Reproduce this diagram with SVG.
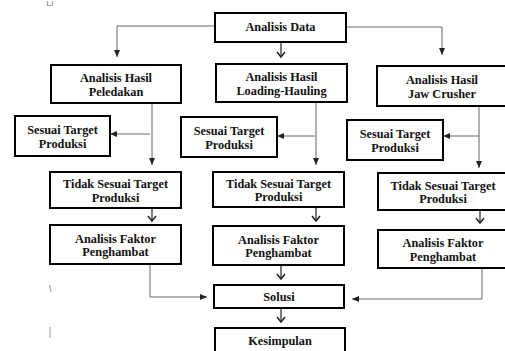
<svg xmlns="http://www.w3.org/2000/svg" width="505" height="351" viewBox="0 0 505 351">
<defs>
<style>
.box{fill:#fff;stroke:#000;stroke-width:2}
.t{font-family:"Liberation Serif","Times New Roman",serif;font-weight:bold;font-size:12.3px;fill:#111;text-anchor:middle}
.c{fill:none;stroke:#666;stroke-width:1}
.cv{fill:none;stroke:#222;stroke-width:1.2}
.mark{stroke:#aaa;stroke-width:1.2;fill:none}
</style>
<marker id="tri" markerUnits="userSpaceOnUse" markerWidth="8" markerHeight="8" viewBox="0 0 8 8" refX="7" refY="4" orient="auto">
<path d="M0,1 L7,4 L0,7 Z" fill="#222"/>
</marker>
<marker id="vee" markerUnits="userSpaceOnUse" markerWidth="10" markerHeight="10" viewBox="0 0 10 10" refX="8" refY="5" orient="auto">
<path d="M3,1 L8,5 L3,9" fill="none" stroke="#222" stroke-width="1.5"/>
</marker>
</defs>
<rect width="505" height="351" fill="#fff"/>
<g id="artifacts">
<path class="mark" d="M47.5,1 V5.5 H52.5 V1"/>
<path class="mark" d="M49.5,285 L51,292"/>
<path class="mark" d="M50,327 V338"/>
</g>
<g id="connectors">
<path class="c" d="M215,26 H117 V57" marker-end="url(#tri)"/>
<path class="c" d="M346,27 H442 V55" marker-end="url(#tri)"/>
<path class="cv" d="M281,42 V57" marker-end="url(#vee)"/>
<path class="c" d="M152,103 V165" marker-end="url(#tri)"/>
<path class="c" d="M150,134 H110" marker-end="url(#tri)"/>
<path class="c" d="M316,102 V165" marker-end="url(#tri)"/>
<path class="c" d="M315,136 H277" marker-end="url(#tri)"/>
<path class="c" d="M479,106 V168" marker-end="url(#tri)"/>
<path class="c" d="M479,136 H443" marker-end="url(#tri)"/>
<path class="cv" d="M152,208 V221" marker-end="url(#vee)"/>
<path class="cv" d="M316,207 V221" marker-end="url(#vee)"/>
<path class="cv" d="M480,210 V223" marker-end="url(#vee)"/>
<path class="c" d="M150,264 V297 H207" marker-end="url(#tri)"/>
<path class="cv" d="M281,265 V279" marker-end="url(#vee)"/>
<path class="c" d="M482,268 V299 H352" marker-end="url(#tri)"/>
<path class="cv" d="M281,308 V322" marker-end="url(#vee)"/>
</g>
<g id="analisis-data">
<rect class="box" x="215" y="13" width="131" height="29"/>
<text class="t" x="280.5" y="31">Analisis Data</text>
</g>
<g id="hasil-peledakan">
<rect class="box" x="51" y="65" width="130" height="38"/>
<text class="t" x="116" y="82">Analisis Hasil</text>
<text class="t" x="116" y="95.5">Peledakan</text>
</g>
<g id="hasil-loading">
<rect class="box" x="216" y="64" width="131" height="38"/>
<text class="t" x="281.5" y="81">Analisis Hasil</text>
<text class="t" x="281.5" y="94.5">Loading-Hauling</text>
</g>
<g id="hasil-jaw">
<rect class="box" x="377" y="66" width="130" height="40"/>
<text class="t" x="442" y="84">Analisis Hasil</text>
<text class="t" x="442" y="97.5">Jaw Crusher</text>
</g>
<g id="sesuai-1">
<rect class="box" x="15" y="116" width="95" height="40"/>
<text class="t" x="62.5" y="134">Sesuai Target</text>
<text class="t" x="62.5" y="147.5">Produksi</text>
</g>
<g id="sesuai-2">
<rect class="box" x="181" y="117" width="96" height="40"/>
<text class="t" x="229" y="135">Sesuai Target</text>
<text class="t" x="229" y="148.5">Produksi</text>
</g>
<g id="sesuai-3">
<rect class="box" x="347" y="120" width="96" height="40"/>
<text class="t" x="395" y="138">Sesuai Target</text>
<text class="t" x="395" y="151.5">Produksi</text>
</g>
<g id="tidak-1">
<rect class="box" x="50" y="172" width="131" height="36"/>
<text class="t" x="115.5" y="188">Tidak Sesuai Target</text>
<text class="t" x="115.5" y="201.5">Produksi</text>
</g>
<g id="tidak-2">
<rect class="box" x="213" y="172" width="131" height="35"/>
<text class="t" x="278.5" y="187.5">Tidak Sesuai Target</text>
<text class="t" x="278.5" y="201">Produksi</text>
</g>
<g id="tidak-3">
<rect class="box" x="378" y="173" width="130" height="37"/>
<text class="t" x="443" y="189.5">Tidak Sesuai Target</text>
<text class="t" x="443" y="203">Produksi</text>
</g>
<g id="faktor-1">
<rect class="box" x="50" y="225" width="131" height="39"/>
<text class="t" x="115.5" y="242.5">Analisis Faktor</text>
<text class="t" x="115.5" y="256">Penghambat</text>
</g>
<g id="faktor-2">
<rect class="box" x="213" y="226" width="131" height="39"/>
<text class="t" x="278.5" y="243.5">Analisis Faktor</text>
<text class="t" x="278.5" y="257">Penghambat</text>
</g>
<g id="faktor-3">
<rect class="box" x="378" y="230" width="130" height="38"/>
<text class="t" x="443" y="247">Analisis Faktor</text>
<text class="t" x="443" y="260.5">Penghambat</text>
</g>
<g id="solusi">
<rect class="box" x="214" y="285" width="130" height="23"/>
<text class="t" x="279" y="301">Solusi</text>
</g>
<g id="kesimpulan">
<rect class="box" x="215" y="328" width="130" height="32"/>
<text class="t" x="280" y="345">Kesimpulan</text>
</g>
</svg>
